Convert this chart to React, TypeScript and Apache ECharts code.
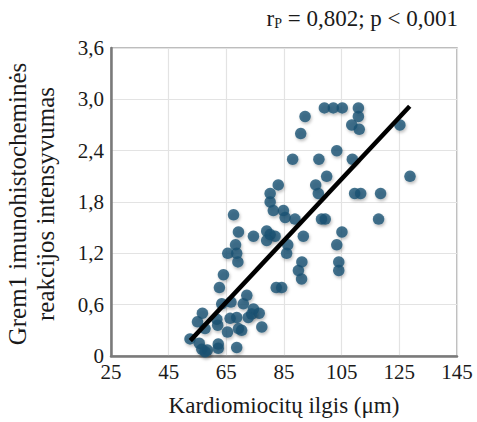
import React, { useEffect, useRef } from "react";
import * as echarts from "echarts";

// Scatter points: cardiomyocyte length (µm) vs Grem1 intensity
const lengthUm: number[] = [
  99.0, 102.1, 105.2, 110.8,
  92.3, 110.8,
  108.5, 111.1, 125.2,
  90.8,
  103.3,
  88.0, 97.1, 108.7,
  99.8, 128.7,
  83.0, 96.0,
  96.9, 80.2, 109.5, 111.6, 118.5,
  80.2,
  81.3, 84.8,
  67.5,
  85.4, 88.8, 98.0, 99.3, 117.8,
  69.2, 79.0, 105.1,
  74.4, 80.2, 81.9, 91.7, 79.0,
  68.2, 86.3, 103.3,
  65.5, 68.6, 85.9,
  69.0, 91.2, 104.0,
  90.0, 104.0,
  64.0,
  91.1,
  62.6, 82.3, 84.2,
  72.1,
  63.4, 66.6, 70.9,
  74.4,
  56.7, 76.4, 73.8,
  55.0, 61.7, 66.3, 68.6, 72.6,
  57.6, 62.0, 65.4, 69.2, 70.3, 77.3,
  52.4,
  55.6, 62.2,
  56.5, 58.4, 62.2, 68.6,
  57.6,
];
const intensity: number[] = [
  2.9, 2.9, 2.9, 2.9,
  2.8, 2.8,
  2.7, 2.65, 2.7,
  2.6,
  2.4,
  2.3, 2.3, 2.3,
  2.1, 2.1,
  2.0, 2.0,
  1.9, 1.9, 1.9, 1.9, 1.9,
  1.8,
  1.7, 1.7,
  1.65,
  1.62, 1.6, 1.6, 1.6, 1.6,
  1.45, 1.46, 1.45,
  1.4, 1.42, 1.4, 1.4, 1.35,
  1.3, 1.3, 1.3,
  1.2, 1.2, 1.2,
  1.1, 1.1, 1.1,
  1.0, 1.0,
  0.95,
  0.9,
  0.8, 0.8, 0.8,
  0.71,
  0.61, 0.63, 0.61,
  0.55,
  0.5, 0.5, 0.49,
  0.4, 0.43, 0.44, 0.45, 0.45,
  0.32, 0.36, 0.28, 0.32, 0.3, 0.34,
  0.2,
  0.15, 0.14,
  0.08, 0.07, 0.09, 0.1,
  0.05,
];

// Regression line end points
const fitX: number[] = [52.5, 128.6];
const fitY: number[] = [0.18, 2.92];

// Axis ticks
const xTicks: number[] = [25, 45, 65, 85, 105, 125, 145];
const yTicks: number[] = [0, 0.6, 1.2, 1.8, 2.4, 3.0, 3.6];

const xTitle = "Kardiomiocitų ilgis (μm)";
const yTitleLines: string[] = ["Grem1 imunohistocheminės", "reakcijos intensyvumas"];

const SERIF = "Liberation Serif";

export default function App() {
  const ref = useRef<HTMLDivElement>(null);
  useEffect(() => {
    if (!ref.current) return;
    const chart = echarts.init(ref.current, undefined, { renderer: "svg" });
    const pts = lengthUm.map((x, i) => [x, intensity[i]]);
    const fit = fitX.map((x, i) => [x, fitY[i]]);
    chart.setOption({
      animation: false,
      backgroundColor: "#ffffff",
      textStyle: { fontFamily: SERIF },
      grid: {
        left: 111,
        right: 20,
        top: 48,
        bottom: 63,
        show: true,
        borderColor: "#a8a8a8",
        borderWidth: 1.5,
      },
      xAxis: {
        type: "value",
        min: 25,
        max: 145,
        axisLine: { show: true, onZero: false, lineStyle: { color: "#7a7a7a", width: 2.5 } },
        axisTick: { show: false, customValues: xTicks },
        axisLabel: {
          customValues: xTicks,
          color: "#1a1a1a",
          fontFamily: SERIF,
          fontSize: 21,
          lineHeight: 16,
          margin: 8,
        },
        splitLine: { show: true, lineStyle: { color: "#e3e3e3", width: 1.2 } },
        name: xTitle,
        nameLocation: "middle",
        nameGap: 38,
        nameTextStyle: { color: "#1a1a1a", fontFamily: SERIF, fontSize: 23 },
      },
      yAxis: {
        type: "value",
        min: 0,
        max: 3.6,
        interval: 0.6,
        axisLine: { show: true, onZero: false, lineStyle: { color: "#7a7a7a", width: 2.5 } },
        axisTick: { show: false },
        axisLabel: {
          customValues: yTicks,
          color: "#1a1a1a",
          fontFamily: SERIF,
          fontSize: 21,
          lineHeight: 14,
          margin: 7,
          formatter: (v: number) => (v === 0 ? "0" : v.toFixed(1).replace(".", ",")),
        },
        splitLine: { show: true, lineStyle: { color: "#e3e3e3", width: 1.2 } },
      },
      graphic: [
        {
          type: "text",
          x: 31,
          y: 204,
          rotation: Math.PI / 2,
          style: {
            text: yTitleLines.join("\n"),
            fontFamily: SERIF,
            fontSize: 25,
            lineHeight: 28,
            fill: "#1a1a1a",
            textAlign: "center",
            textVerticalAlign: "middle",
          },
        },
        {
          type: "text",
          right: 19,
          top: 7,
          style: {
            text: "{a|r}{s|P}{a| = 0,802; p < 0,001}",
            fill: "#1a1a1a",
            rich: {
              a: { fontFamily: SERIF, fontSize: 23, fill: "#1a1a1a", verticalAlign: "bottom" },
              s: { fontFamily: SERIF, fontSize: 14, fill: "#1a1a1a", verticalAlign: "bottom" },
            },
          },
        },
      ],
      series: [
        {
          type: "scatter",
          data: pts,
          symbol: "circle",
          symbolSize: 11.5,
          itemStyle: {
            color: "#1a5273",
            shadowBlur: 3,
            shadowColor: "rgba(0,0,0,0.3)",
            shadowOffsetX: 1,
            shadowOffsetY: 2,
          },
          z: 2,
        },
        {
          type: "line",
          data: fit,
          symbol: "none",
          lineStyle: { color: "#000000", width: 4.5 },
          z: 3,
        },
      ],
    });
    return () => chart.dispose();
  }, []);
  return (
    <div
      ref={ref}
      style={{ position: "absolute", left: 0, top: 0, width: 477, height: 422 }}
    />
  );
}
